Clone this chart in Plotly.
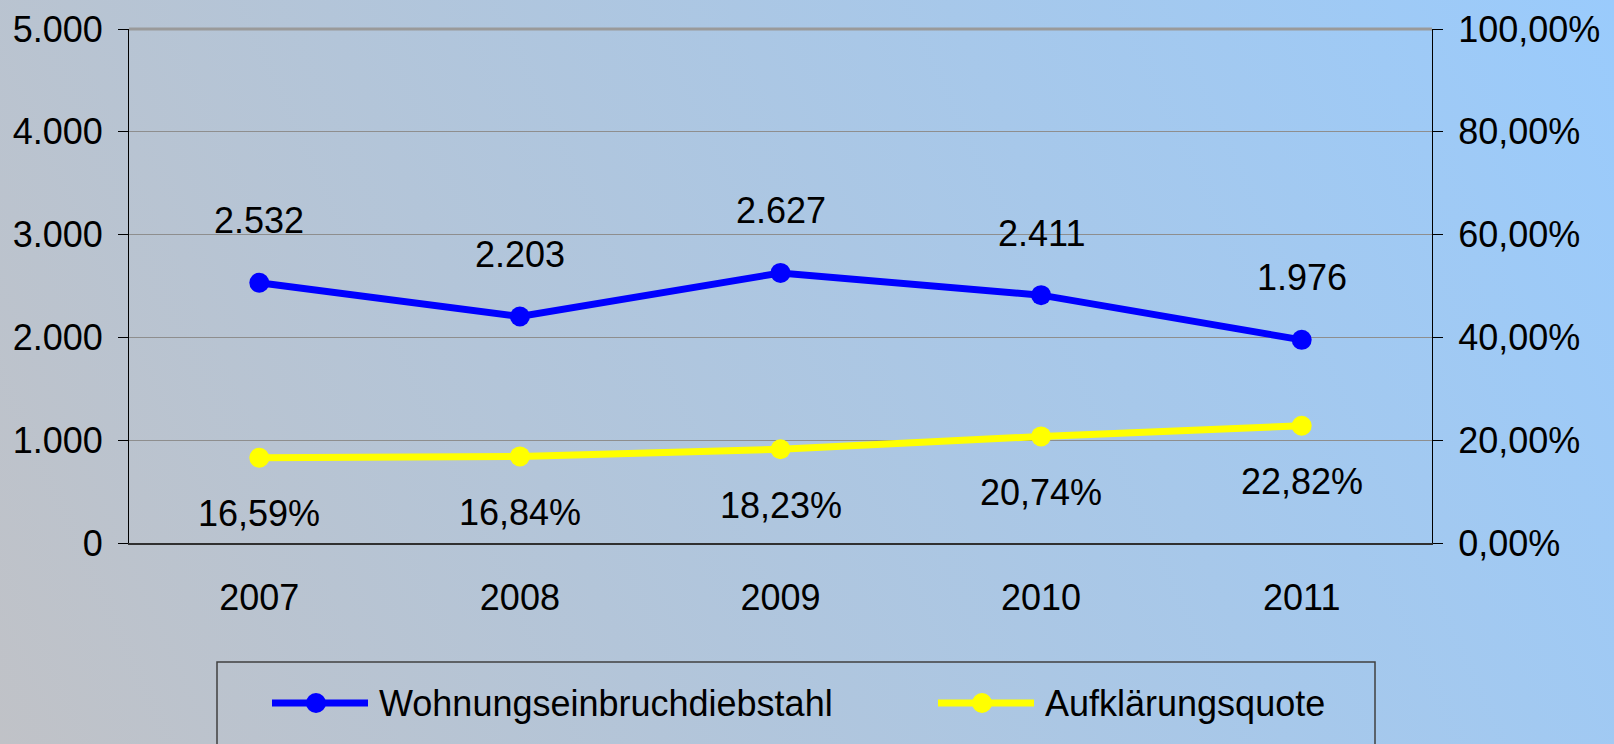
import base64
import plotly.graph_objects as go

# ---- data ----
years = ["2007", "2008", "2009", "2010", "2011"]
einbruch = [2532, 2203, 2627, 2411, 1976]
quote = [0.1659, 0.1684, 0.1823, 0.2074, 0.2282]
series_names = ["Wohnungseinbruchdiebstahl", "Aufklärungsquote"]
series_colors = ["#0000FF", "#FFFF00"]

W, H = 1614, 744
FONT = "Liberation Sans, Arial, sans-serif"
FS = 36

def px_x(p):
    return p / W

def px_y(p):
    return (H - p) / H

# plot area in pixels
L, R, T, B = 129, 1432, 29, 543
xdom = [px_x(L), px_x(R)]
ydom = [px_y(B), px_y(T)]

n = len(years)
xi = list(range(n))
bounds = [i - 0.5 for i in range(n + 1)]

fig = go.Figure()

fig.add_trace(go.Scatter(
    x=xi, y=einbruch, mode="lines+markers", name=series_names[0],
    line=dict(color=series_colors[0], width=7),
    marker=dict(color=series_colors[0], size=20),
    xaxis="x", yaxis="y", showlegend=False,
))
fig.add_trace(go.Scatter(
    x=xi, y=quote, mode="lines+markers", name=series_names[1],
    line=dict(color=series_colors[1], width=7),
    marker=dict(color=series_colors[1], size=20),
    xaxis="x", yaxis="y2", showlegend=False,
))

annotations = []
for i, v in zip(xi, einbruch):
    annotations.append(dict(
        x=i, y=v, xref="x", yref="y", text=f"{v:,}".replace(",", "."),
        showarrow=False, yshift=62, font=dict(family=FONT, size=FS, color="black"),
    ))
for i, v in zip(xi, quote):
    annotations.append(dict(
        x=i, y=v, xref="x", yref="y2", text=f"{v*100:.2f}".replace(".", ",") + "%",
        showarrow=False, yshift=-56, font=dict(family=FONT, size=FS, color="black"),
    ))

# custom legend (long line symbols like the original)
leg_y = px_y(703)
leg_items = [(272, 368, 316, 377), (938, 1034, 982, 1043)]
shapes = []
shapes.append(dict(type="rect", xref="paper", yref="paper",
                   x0=px_x(217), x1=px_x(1375), y0=px_y(760), y1=px_y(662),
                   line=dict(color="#404040", width=1.5), fillcolor="rgba(0,0,0,0)"))
for (x0, x1, xc, xt), name, col in zip(leg_items, series_names, series_colors):
    shapes.append(dict(type="line", xref="paper", yref="paper",
                       x0=px_x(x0), x1=px_x(x1), y0=leg_y, y1=leg_y,
                       line=dict(color=col, width=7)))
    shapes.append(dict(type="circle", xref="paper", yref="paper",
                       xsizemode="pixel", ysizemode="pixel",
                       xanchor=px_x(xc), yanchor=leg_y,
                       x0=-10, x1=10, y0=-10, y1=10,
                       line=dict(color=col, width=0), fillcolor=col))
    annotations.append(dict(x=px_x(xt), y=leg_y, xref="paper", yref="paper",
                            xanchor="left", yanchor="middle", showarrow=False,
                            text=name, font=dict(family=FONT, size=FS, color="black")))

# top border line (thick grey)
shapes.append(dict(type="line", xref="x domain", yref="y domain", x0=0, x1=1, y0=1, y1=1,
                   line=dict(color="#9A9A9A", width=3)))

# background gradient
svg = (f'<svg xmlns="http://www.w3.org/2000/svg" width="{W}" height="{H}" viewBox="0 0 {W} {H}" preserveAspectRatio="none">'
       f'<defs><linearGradient id="g" gradientUnits="userSpaceOnUse" x1="0" y1="{H}" x2="{W}" y2="0">'
       '<stop offset="0" stop-color="#C0C2C7"/><stop offset="1" stop-color="#9ACBFC"/>'
       f'</linearGradient></defs><rect x="0" y="0" width="{W}" height="{H}" fill="url(#g)"/></svg>')
uri = "data:image/svg+xml;base64," + base64.b64encode(svg.encode()).decode()

tickfont = dict(family=FONT, size=FS, color="black")

fig.update_layout(
    width=W, height=H, margin=dict(l=0, r=0, t=0, b=0, pad=0),
    paper_bgcolor="#AEC6E2", plot_bgcolor="rgba(0,0,0,0)",
    separators=",.",
    showlegend=False,
    images=[dict(source=uri, xref="paper", yref="paper", x=0, y=1, sizex=1, sizey=1,
                 xanchor="left", yanchor="top", sizing="stretch", layer="below")],
    # category labels
    xaxis=dict(domain=xdom, anchor="y", range=[-0.5, n - 0.5], automargin=False,
               tickmode="array", tickvals=xi, ticktext=years, ticks="",
               ticklabelstandoff=22, tickfont=tickfont,
               showline=True, linecolor="#303030", linewidth=2,
               showgrid=False, zeroline=False),
    # outside ticks at category boundaries
    xaxis2=dict(domain=xdom, anchor="y", overlaying="x", range=[-0.5, n - 0.5],
                automargin=False, tickmode="array", tickvals=bounds, ticks="outside",
                ticklen=11, tickcolor="black", tickwidth=1, showticklabels=False,
                showgrid=False, zeroline=False, showline=False, side="bottom"),
    # inside ticks at category boundaries
    xaxis3=dict(domain=xdom, anchor="y", overlaying="x", range=[-0.5, n - 0.5],
                automargin=False, tickmode="array", tickvals=bounds, ticks="inside",
                ticklen=10, tickcolor="black", tickwidth=1, showticklabels=False,
                showgrid=False, zeroline=False, showline=False, side="bottom"),
    yaxis=dict(domain=ydom, anchor="x", range=[0, 5000], dtick=1000, tickformat=",d",
               automargin=False, ticks="outside", ticklen=10, tickcolor="black",
               tickwidth=1, tickfont=tickfont, ticklabelstandoff=8,
               showline=True, linecolor="black", linewidth=1,
               showgrid=True, gridcolor="#8E8E8E", gridwidth=1, zeroline=False),
    yaxis2=dict(domain=ydom, anchor="x", overlaying="y", side="right", range=[0, 1],
                dtick=0.2, tickformat=".2%", automargin=False, ticks="outside",
                ticklen=10, tickcolor="black", tickwidth=1, tickfont=tickfont,
                ticklabelstandoff=8, showline=True, linecolor="black", linewidth=1,
                showgrid=False, zeroline=False),
    yaxis3=dict(domain=ydom, anchor="x", overlaying="y", side="left", range=[0, 5000],
                dtick=1000, automargin=False, ticks="inside", ticklen=10,
                tickcolor="black", showticklabels=False, showgrid=False,
                zeroline=False, showline=False),
    yaxis4=dict(domain=ydom, anchor="x", overlaying="y", side="right", range=[0, 1],
                dtick=0.2, automargin=False, ticks="inside", ticklen=10,
                tickcolor="black", showticklabels=False, showgrid=False,
                zeroline=False, showline=False),
    shapes=shapes,
    annotations=annotations,
)

fig.write_html(
    "out.html",
    config={"displayModeBar": False},
    post_script="document.body.style.margin='0';document.body.style.overflow='hidden';",
)
